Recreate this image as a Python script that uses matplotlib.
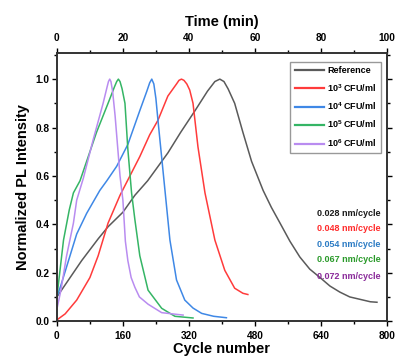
import matplotlib
matplotlib.use("Agg")
import matplotlib.pyplot as plt
from matplotlib.ticker import MultipleLocator

plt.rcParams['font.family'] = ['Liberation Sans', 'DejaVu Sans']
plt.rcParams['font.weight'] = 'bold'
plt.rcParams['mathtext.fontset'] = 'custom'
plt.rcParams['mathtext.rm'] = 'Liberation Sans:bold'
plt.rcParams['mathtext.bf'] = 'Liberation Sans:bold'

# curves (cycle number, normalized PL)
ref_x = [0, 20, 60, 100, 124, 160, 189, 220, 269, 300, 335, 365, 383, 395, 405, 415, 431,
         451, 472, 500, 520, 541, 565, 589, 613, 638, 662, 686, 710, 735, 760, 776]
ref_y = [0.10, 0.15, 0.25, 0.34, 0.39, 0.45, 0.52, 0.58, 0.695, 0.78, 0.87, 0.95, 0.99, 1.0,
         0.99, 0.96, 0.9, 0.78, 0.66, 0.54, 0.47, 0.405, 0.33, 0.265, 0.215, 0.18, 0.145,
         0.12, 0.10, 0.09, 0.08, 0.078]

e3_x = [0, 20, 48, 80, 100, 124, 153, 177, 201, 225, 245, 269, 290, 296, 302, 308, 315,
        322, 330, 342, 359, 383, 407, 431, 451, 463]
e3_y = [0.005, 0.03, 0.087, 0.18, 0.27, 0.405, 0.52, 0.6, 0.68, 0.77, 0.83, 0.93, 0.98,
        0.995, 1.0, 0.995, 0.98, 0.955, 0.9, 0.72, 0.53, 0.335, 0.21, 0.136, 0.115, 0.11]

e4_x = [0, 10, 31, 48, 72, 104, 121, 145, 172, 201, 218, 225, 230, 235, 240, 245, 262,
        274, 290, 310, 330, 351, 380, 411]
e4_y = [0.1, 0.15, 0.266, 0.36, 0.445, 0.54, 0.58, 0.64, 0.73, 0.87, 0.95, 0.985, 1.0,
        0.98, 0.92, 0.83, 0.54, 0.335, 0.17, 0.087, 0.054, 0.032, 0.02, 0.014]

e5_x = [0, 16, 30, 40, 56, 64, 96, 124, 140, 145, 149, 153, 158, 165, 172, 181, 189, 201,
        221, 254, 286, 330]
e5_y = [0.1, 0.335, 0.46, 0.53, 0.58, 0.62, 0.78, 0.9, 0.97, 0.99, 1.0, 0.99, 0.96, 0.9,
        0.71, 0.53, 0.42, 0.27, 0.128, 0.053, 0.02, 0.013]

e6_x = [0, 10, 23, 40, 48, 64, 88, 112, 122, 125, 128, 131, 135, 141, 153, 160, 166, 172,
        180, 189, 200, 221, 254, 306]
e6_y = [0.05, 0.13, 0.266, 0.405, 0.5, 0.59, 0.75, 0.9, 0.97, 0.99, 1.0, 0.99, 0.95, 0.85,
        0.6, 0.5, 0.33, 0.25, 0.18, 0.14, 0.1, 0.07, 0.035, 0.025]

labels = ['Reference', r'10$^{3}$ CFU/ml', r'10$^{4}$ CFU/ml', r'10$^{5}$ CFU/ml',
          r'10$^{6}$ CFU/ml']
line_colors = ['#5a5a5a', '#ff3b3b', '#3f88e6', '#35b565', '#b98cf0']
rates = ['0.028 nm/cycle', '0.048 nm/cycle', '0.054 nm/cycle', '0.067 nm/cycle',
         '0.072 nm/cycle']
rate_colors = ['#1a1a1a', '#ff2a2a', '#2b7bc4', '#2a9a2a', '#8a2a9a']

fig = plt.figure(figsize=(3.98, 3.58), dpi=100)
ax = fig.add_axes([0.143, 0.103, 0.829, 0.749])

curves = [(ref_x, ref_y), (e3_x, e3_y), (e4_x, e4_y), (e5_x, e5_y), (e6_x, e6_y)]
for (xs, ys), c, lab in zip(curves, line_colors, labels):
    ax.plot(xs, ys, color=c, lw=1.1, label=lab)

ax.set_xlim(0, 800)
ax.set_ylim(0, 1.108)
ax.xaxis.set_major_locator(MultipleLocator(160))
ax.xaxis.set_minor_locator(MultipleLocator(80))
ax.yaxis.set_major_locator(MultipleLocator(0.2))
ax.yaxis.set_minor_locator(MultipleLocator(0.1))
ax.yaxis.set_major_formatter(plt.FuncFormatter(lambda v, p: f'{v:.1f}'))
ax.tick_params(which='both', direction='out', labelsize=7.3, width=1, right=True)
ax.tick_params(which='major', length=3.5)
ax.tick_params(which='minor', length=2.2)
ax.tick_params(axis='y', which='major', pad=2)
ax.set_xlabel('Cycle number', fontsize=10.5, fontweight='bold', labelpad=1)
ax.set_ylabel('Normalized PL Intensity', fontsize=10.5, fontweight='bold', labelpad=4)
for s in ax.spines.values():
    s.set_linewidth(1.2)
    s.set_color('#333333')

top = ax.twiny()
top.set_xlim(0, 100)
top.xaxis.set_major_locator(MultipleLocator(20))
top.xaxis.set_minor_locator(MultipleLocator(10))
top.tick_params(which='both', direction='out', labelsize=7.3, width=1)
top.tick_params(which='major', length=3.5)
top.tick_params(which='minor', length=2.2)
top.set_xlabel('Time (min)', fontsize=10.5, fontweight='bold', labelpad=5)
for s in top.spines.values():
    s.set_linewidth(1.2)
    s.set_color('#333333')

leg = ax.legend(loc='upper right', bbox_to_anchor=(0.982, 0.968), borderaxespad=0,
                fancybox=False, edgecolor='#999999', fontsize=6.5, handlelength=3.2,
                labelspacing=0.75, handletextpad=0.4, borderpad=0.5, framealpha=1)
for h in leg.get_lines():
    h.set_linewidth(1.6)

ys_txt = [0.403, 0.347, 0.287, 0.228, 0.168]
for t, c, y in zip(rates, rate_colors, ys_txt):
    ax.text(0.788, y, t, color=c, fontsize=6.5, fontweight='bold', transform=ax.transAxes,
            ha='left', va='center')

fig.savefig('out.png', dpi=100)
